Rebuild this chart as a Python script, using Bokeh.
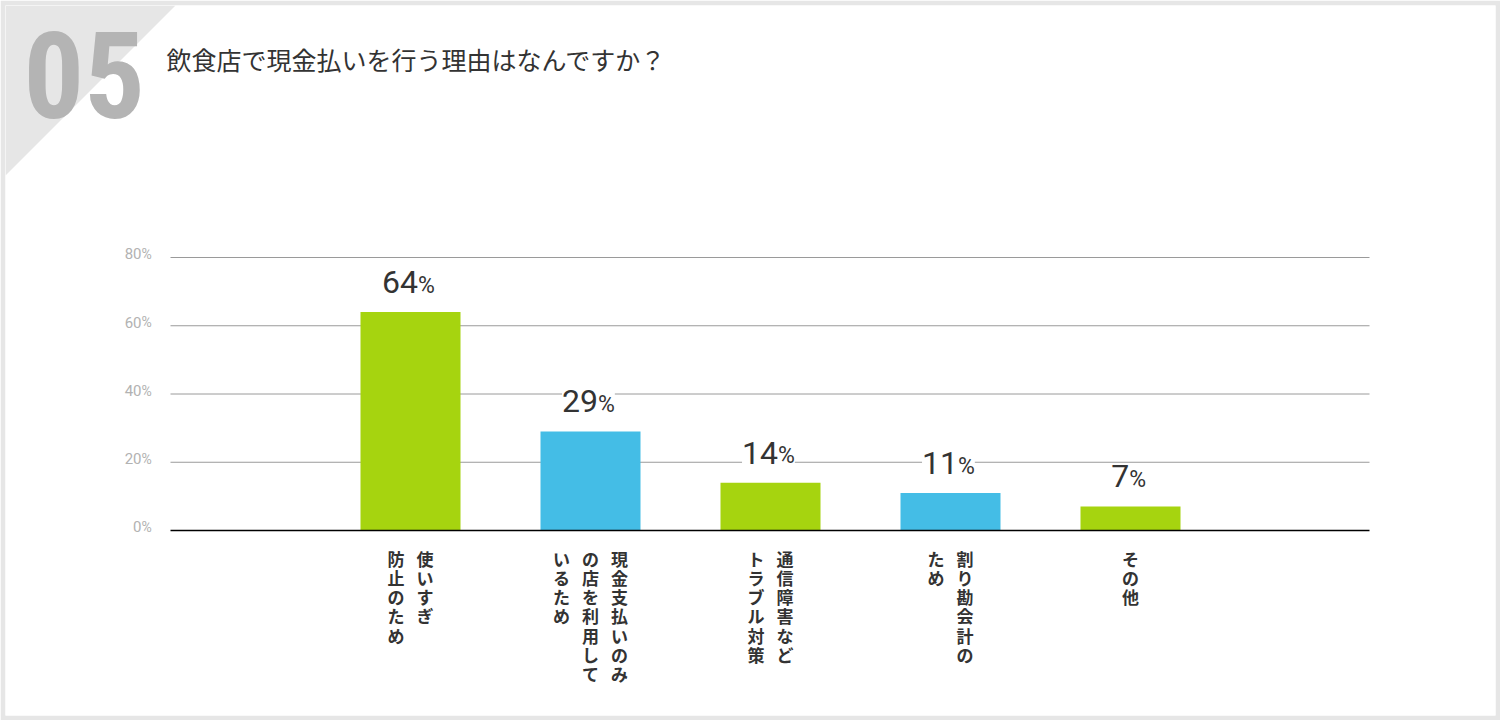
from bokeh.plotting import figure
from bokeh.models import Range1d, ColumnDataSource
from bokeh.core.properties import value
from bokeh.embed import file_html
from bokeh.resources import INLINE

# ---------------- data ----------------
TITLE = "飲食店で現金払いを行う理由はなんですか？"
NUMBER = "05"
categories = [
    ["使いすぎ", "防止のため"],
    ["現金支払いのみ", "の店を利用して", "いるため"],
    ["通信障害など", "トラブル対策"],
    ["割り勘会計の", "ため"],
    ["その他"],
]
values = [64, 29, 14, 11, 7]
y_ticks = [0, 20, 40, 60, 80]

# ---------------- style / layout ----------------
GREEN = "#a6d40f"
BLUE = "#44bde6"
PALETTE = [GREEN, BLUE]
DARK = "#333333"
TICK_GREY = "#b2b2b2"
GRID_GREY = "#9a9a9a"
CORNER_GREY = "#e6e6e6"
NUM_GREY = "#b4b4b4"
JP = value("Noto Sans CJK JP")
NUMF = value("Roboto")
BASE_FIX = 0.38        # correction of alphabetic baseline (fraction of font size)

W, H = 1500, 720
BORDER = 5
PX0, PY0 = BORDER, BORDER
PX1, PY1 = W - BORDER, H - BORDER
ZERO_PY = 530          # page y of 0%
TOP_PY = 257           # page y of 80%
CAT0_PX = 410          # page x of first category centre
STEP_PX = 180          # pixels between categories
BAR_PX = 100
GRID_L_PX, GRID_R_PX = 170, 1369

ppu_y = (ZERO_PY - TOP_PY) / max(y_ticks)
x_start = (PX0 - CAT0_PX) / STEP_PX
x_end = (PX1 - CAT0_PX) / STEP_PX
y_start = -(PY1 - ZERO_PY) / ppu_y
y_end = (ZERO_PY - PY0) / ppu_y
grid_x0 = (GRID_L_PX - CAT0_PX) / STEP_PX
grid_x1 = (GRID_R_PX - CAT0_PX) / STEP_PX

p = figure(width=W, height=H, output_backend="svg", toolbar_location=None,
           x_range=Range1d(x_start, x_end), y_range=Range1d(y_start, y_end),
           x_axis_type=None, y_axis_type=None, min_border=BORDER)
p.outline_line_color = None
p.background_fill_color = "white"
p.border_fill_color = CORNER_GREY
p.extra_x_ranges = {"px": Range1d(PX0, PX1)}
p.extra_y_ranges = {"px": Range1d(PY1, PY0)}

# ---- decoration: grey corner and big number ----
p.patch(x=[PX0, 175, PX0], y=[PY0, PY0, 175], fill_color=CORNER_GREY, line_color=None,
        x_range_name="px", y_range_name="px")
NUM_FS = 120
p.text(x=[23], y=[120], text=[NUMBER], x_range_name="px", y_range_name="px",
       y_offset=-BASE_FIX * NUM_FS,
       text_font=value("Roboto Condensed"), text_font_style="bold", text_font_size=f"{NUM_FS}px",
       text_color=NUM_GREY, text_baseline="alphabetic", text_align="left")
p.text(x=[166], y=[58], text=[TITLE], x_range_name="px", y_range_name="px",
       text_font=JP, text_font_size="25px", text_color=DARK,
       text_baseline="middle", text_align="left")

# ---- grid lines ----
grid_src = ColumnDataSource(dict(y=[t for t in y_ticks if t != 0]))
p.segment(x0=grid_x0, x1=grid_x1, y0="y", y1="y", source=grid_src,
          line_color=GRID_GREY, line_width=1)

# ---- y tick labels ----
TN, TP = 15, 14
tick_src = ColumnDataSource(dict(y=y_ticks, num=[str(t) for t in y_ticks], pct=["%"] * len(y_ticks)))
p.text(x=grid_x0, y="y", text="num", source=tick_src, x_offset=-29, y_offset=2 - BASE_FIX * TN,
       text_font=NUMF, text_font_size=f"{TN}px", text_color=TICK_GREY,
       text_align="right", text_baseline="alphabetic")
p.text(x=grid_x0, y="y", text="pct", source=tick_src, x_offset=-29, y_offset=2 - BASE_FIX * TP,
       text_font=NUMF, text_font_size=f"{TP}px", text_color=TICK_GREY,
       text_align="left", text_baseline="alphabetic")

# ---- bars ----
idx = list(range(len(values)))
bar_src = ColumnDataSource(dict(x=idx, top=values,
                                color=[PALETTE[i % 2] for i in idx]))
p.vbar(x="x", top="top", bottom=0, width=BAR_PX / STEP_PX, source=bar_src,
       fill_color="color", line_color=None)

# baseline
p.segment(x0=[grid_x0], x1=[grid_x1], y0=[0], y1=[0], line_color="black", line_width=1.5)

# ---- value labels ----
VN, VP = 32, 23
nums = [str(v) for v in values]
split = [(len(s) * 17.5 - 20) / 2 for s in nums]
val_src = ColumnDataSource(dict(x=idx, y=values, num=nums, pct=["%"] * len(values), off=split))
p.text(x="x", y="y", text="num", source=val_src, x_offset="off", y_offset=-18 - BASE_FIX * VN,
       text_font=NUMF, text_font_size=f"{VN}px", text_color=DARK,
       text_align="right", text_baseline="alphabetic",
       background_fill_color="white")
p.text(x="x", y="y", text="pct", source=val_src, x_offset="off", y_offset=-18 - BASE_FIX * VP,
       text_font=NUMF, text_font_size=f"{VP}px", text_color=DARK,
       text_align="left", text_baseline="alphabetic",
       background_fill_color="white")

# ---- category labels (vertical, columns right to left) ----
COL_PX = 29
cx, ctext, coff = [], [], []
for i, cols in enumerate(categories):
    n = len(cols)
    for j, col in enumerate(cols):
        cx.append(i)
        ctext.append("\n".join(col))
        coff.append((n - 1) / 2 * COL_PX - j * COL_PX)
cat_src = ColumnDataSource(dict(x=cx, text=ctext, off=coff))
p.text(x="x", y=0, text="text", source=cat_src, x_offset="off", y_offset=15,
       text_font=JP, text_font_style="bold", text_font_size="17px", text_color=DARK,
       text_align="center", text_baseline="top", text_line_height=0.77)

open("out.html", "w").write(file_html(p, INLINE))
